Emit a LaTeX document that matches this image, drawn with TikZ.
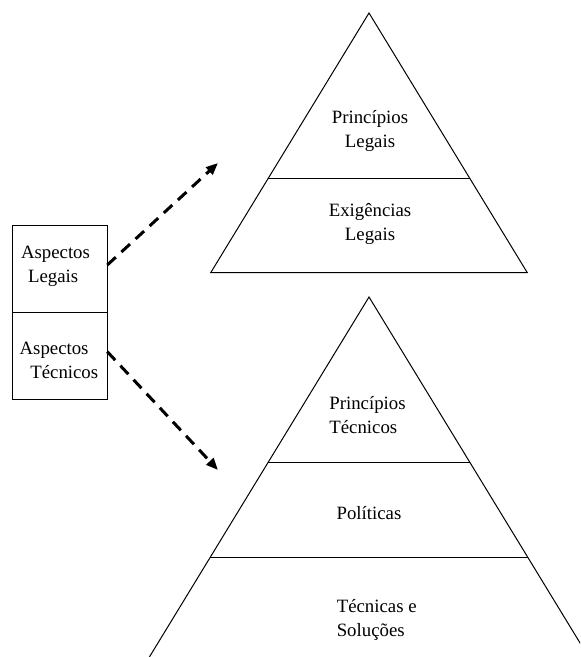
\documentclass[tikz,border=0pt]{standalone}
\usepackage{fontspec}
\setmainfont{Liberation Serif}
\usetikzlibrary{arrows.meta}
\begin{document}
\begin{tikzpicture}[x=0.5pt,y=-0.5pt,
  edge/.style={line width=0.5pt, line join=miter},
  txt/.style={font=\fontsize{9.4}{12}\selectfont, inner sep=0pt, align=center},
  ltxt/.style={txt, align=left},
  cell/.style={draw, line width=0.5pt, minimum width=47.3pt, minimum height=43.35pt, inner sep=0pt},
  link/.style={line width=1.5pt, dash pattern=on 5.8pt off 3.8pt, -{Triangle[length=6pt,width=4.8pt]}}]
\useasboundingbox (0,0) rectangle (580,657);
\clip (0,0) rectangle (580,657);

% left box
\node[cell] (legalcell) at (60,269.35) {};
\node[cell] (techcell) at (60,356) {};
\node[ltxt] (legaltxt) at (55.5,266) {Aspectos\\\hspace*{3.5pt}Legais};
\node[ltxt] (techtxt) at (58.9,360) {Aspectos\\\hspace*{5.35pt}Técnicos};

% top pyramid
\coordinate (tA) at (369,13);
\coordinate (tL) at (210.7,272.7);
\coordinate (tR) at (527.3,272.7);
\draw[edge] (tL) -- (tA) -- (tR) -- cycle;
\coordinate (tD1) at (267.7,179);
\coordinate (tD2) at (470.3,179);
\draw[edge] (tD1) -- (tD2);
\node[txt] (plegais) at (370,131) {Princípios\\Legais};
\node[txt] (elegais) at (370,223.5) {Exigências\\Legais};

% bottom pyramid
\coordinate (bA) at (369,297);
\coordinate (bL) at (125.0,697);
\coordinate (bR) at (613.0,697);
\draw[edge] (bL) -- (bA) -- (bR);
\coordinate (bD1) at (268,462.7);
\coordinate (bD2) at (470,462.7);
\coordinate (bD3) at (210.4,557);
\coordinate (bD4) at (527.6,557);
\draw[edge] (bD1) -- (bD2);
\draw[edge] (bD3) -- (bD4);
\node[ltxt] (ptec) at (367.5,415) {Princípios\\Técnicos};
\node[txt] (pol) at (369,512.7) {Políticas};
\node[ltxt] (tsol) at (376.7,620) {Técnicas e\\Soluções};

% arrows
\coordinate (a1s) at (107.3,265);
\coordinate (a1e) at (218,163);
\coordinate (a2s) at (107.3,351.7);
\coordinate (a2e) at (218,470);
\draw[link] (a1s) -- (a1e);
\draw[link] (a2s) -- (a2e);
\end{tikzpicture}
\end{document}
